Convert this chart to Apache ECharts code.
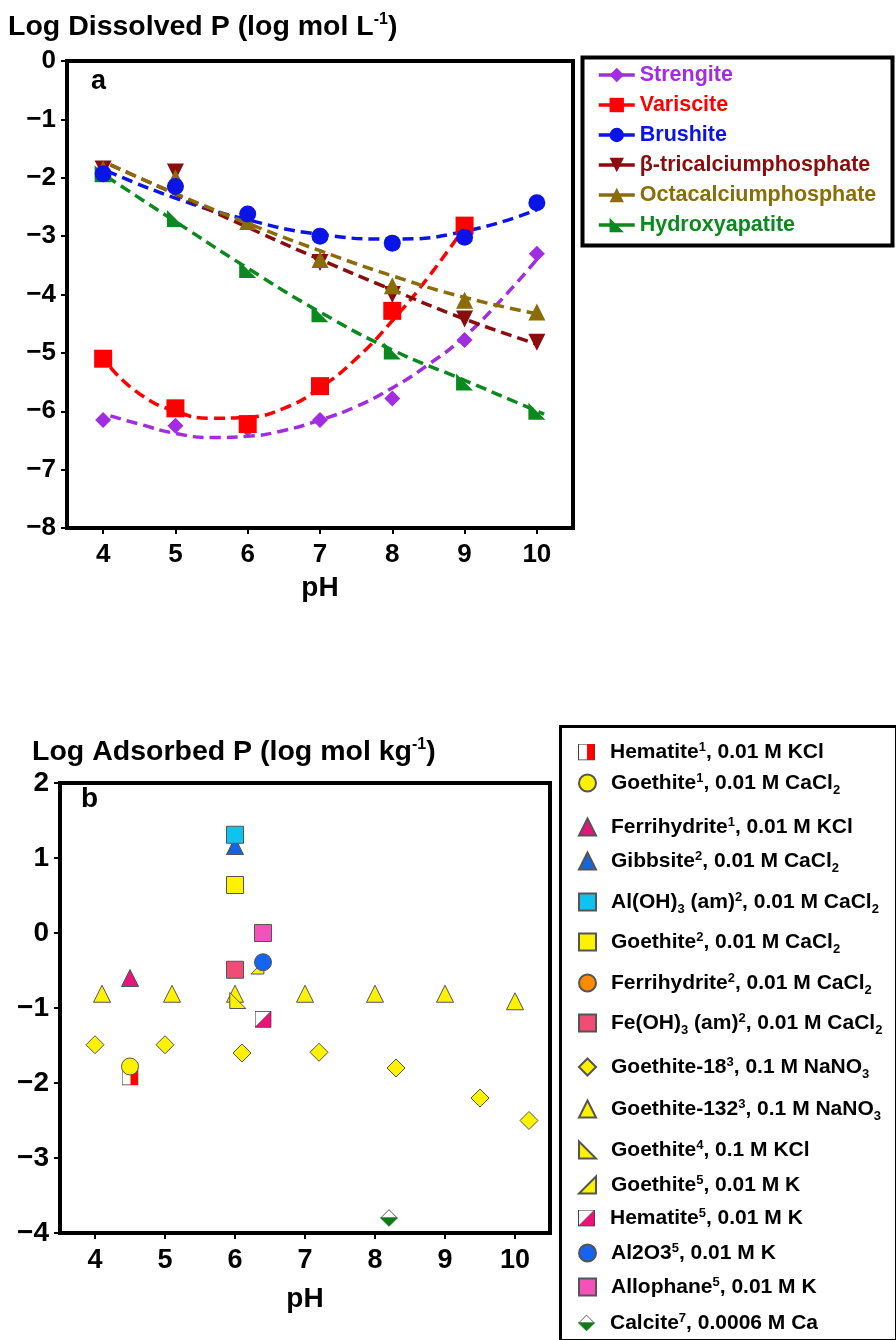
<!DOCTYPE html>
<html><head><meta charset="utf-8">
<script src="https://cdn.jsdelivr.net/npm/echarts@6/dist/echarts.min.js"></script>
<style>html,body{margin:0;padding:0;background:#fff}#c{width:896px;height:1340px}</style>
</head><body><div id="c"></div>
<script>
// ---------- Panel a data ----------
const pH = [4, 5, 6, 7, 8, 9, 10];
const strengite = [-6.15, -6.25, -6.3, -6.15, -5.78, -4.78, -3.3];
const variscite = [-5.1, -5.95, -6.22, -5.57, -4.28, -2.82];
const brushite = [-1.93, -2.15, -2.62, -3.0, -3.12, -3.02, -2.43];
const tcp = [-1.85, -1.9, -2.75, -3.45, -4.0, -4.42, -4.82];
const ocp = [-1.85, -2.0, -2.75, -3.4, -3.85, -4.1, -4.3];
const hap = [-1.93, -2.7, -3.57, -4.33, -4.97, -5.5, -6.0];
// dashed fit curves
const strengiteFitX = [4.1, 4.5, 5, 5.5, 6, 6.5, 7, 7.5, 8, 8.5, 9, 9.5, 10];
const strengiteFitY = [-6.08, -6.22, -6.38, -6.45, -6.43, -6.33, -6.15, -5.92, -5.6, -5.2, -4.72, -4.1, -3.4];
const varisciteFitX = [4.1, 4.5, 5, 5.5, 6, 6.5, 7, 7.5, 8, 8.5, 9];
const varisciteFitY = [-5.25, -5.7, -6.0, -6.12, -6.1, -5.95, -5.6, -5.1, -4.45, -3.7, -2.85];
const brushiteFitX = [4.05, 5, 6, 7, 8, 9, 10];
const brushiteFitY = [-1.88, -2.35, -2.72, -2.97, -3.05, -2.92, -2.55];
const tcpFitX = [4.1, 5, 6, 7, 8, 9, 10];
const tcpFitY = [-1.78, -2.28, -2.85, -3.4, -3.92, -4.42, -4.85];
const ocpFitX = [4.1, 5, 6, 7, 8, 9, 10];
const ocpFitY = [-1.78, -2.27, -2.78, -3.25, -3.68, -4.05, -4.33];
const hapFitX = [4.05, 5, 6, 7, 8, 9, 10.1];
const hapFitY = [-1.98, -2.75, -3.55, -4.3, -4.95, -5.47, -6.05];
const namesA = ['Strengite', 'Variscite', 'Brushite', '\u03B2-tricalciumphosphate', 'Octacalciumphosphate', 'Hydroxyapatite'];
const tickValues = [4, 5, 6, 7, 8, 9, 10];

// ---------- Panel b data ----------
const namesB = ['Hematite1 KCl', 'Goethite1 CaCl2', 'Ferrihydrite1 KCl', 'Gibbsite2 CaCl2', 'Al(OH)3 (am)2 CaCl2',
  'Goethite2 CaCl2', 'Ferrihydrite2 CaCl2', 'Fe(OH)3 (am)2 CaCl2', 'Goethite-18 NaNO3', 'Goethite-132 NaNO3',
  'Goethite4 KCl', 'Goethite5 K', 'Hematite5 K', 'Al2O35 K', 'Allophane5 K', 'Calcite7 Ca'];
const labelsB = [
  '{g| }{b|Hematite}{p|1}{b|, 0.01 M KCl}',
  '{g| }{b|Goethite}{p|1}{b|, 0.01 M CaCl}{d|2}',
  '{g| }{b|Ferrihydrite}{p|1}{b|, 0.01 M KCl}',
  '{g| }{b|Gibbsite}{p|2}{b|, 0.01 M CaCl}{d|2}',
  '{g| }{b|Al(OH)}{d|3}{b| (am)}{p|2}{b|, 0.01 M CaCl}{d|2}',
  '{g| }{b|Goethite}{p|2}{b|, 0.01 M CaCl}{d|2}',
  '{g| }{b|Ferrihydrite}{p|2}{b|, 0.01 M CaCl}{d|2}',
  '{g| }{b|Fe(OH)}{d|3}{b| (am)}{p|2}{b|, 0.01 M CaCl}{d|2}',
  '{g| }{b|Goethite-18}{p|3}{b|, 0.1 M NaNO}{d|3}',
  '{g| }{b|Goethite-132}{p|3}{b|, 0.1 M NaNO}{d|3}',
  '{g| }{b|Goethite}{p|4}{b|, 0.1 M KCl}',
  '{g| }{b|Goethite}{p|5}{b|, 0.01 M K}',
  '{g| }{b|Hematite}{p|5}{b|, 0.01 M K}',
  '{g| }{b|Al2O3}{p|5}{b|, 0.01 M K}',
  '{g| }{b|Allophane}{p|5}{b|, 0.01 M K}',
  '{g| }{b|Calcite}{p|7}{b|, 0.0006 M Ca}'
];
const hematite1X = [4.5], hematite1Y = [-1.92];
const goethite1X = [4.5], goethite1Y = [-1.78];
const ferri1X = [4.5], ferri1Y = [-0.6];
const gibbsiteX = [6.0], gibbsiteY = [1.16];
const alohX = [6.0], alohY = [1.31];
const goethite2X = [6.0], goethite2Y = [0.64];
const ferri2X = [], ferri2Y = [];
const feohX = [6.0], feohY = [-0.49];
const goe18X = [4.0, 5.0, 6.1, 7.2, 8.3, 9.5, 10.2], goe18Y = [-1.49, -1.49, -1.6, -1.59, -1.8, -2.2, -2.5];
const goe132X = [4.1, 5.1, 6.0, 7.0, 8.0, 9.0, 10.0], goe132Y = [-0.81, -0.81, -0.81, -0.81, -0.81, -0.81, -0.91];
const goethite4X = [6.04], goethite4Y = [-0.9];
const goethite5X = [6.32], goethite5Y = [-0.46];
const hematite5X = [6.4], hematite5Y = [-1.15];
const al2o3X = [6.4], al2o3Y = [-0.39];
const allophaneX = [6.4], allophaneY = [0.0];
const calciteX = [8.2], calciteY = [-3.8];
const legendRowsB = [752, 783, 827, 861, 902, 942, 983, 1023, 1067, 1109, 1150, 1185, 1218, 1253, 1287, 1323];

// ---------- helpers ----------
const FONT = '"Liberation Sans", Arial, Helvetica, sans-serif';
const zip = (xs, ys) => xs.map((x, i) => [x, ys[i]]);
const svgUri = s => 'image://data:image/svg+xml;charset=utf-8,' + encodeURIComponent(s);
const SVG_HEM1 = svgUri("<svg xmlns='http://www.w3.org/2000/svg' width='32' height='32' viewBox='0 0 16 16'><rect x='0.5' y='0.5' width='15' height='15' fill='#ffffff' stroke='#444444' stroke-width='1'/><rect x='8.5' y='0.5' width='7' height='15' fill='#ff0000'/></svg>");
const SVG_HEM5 = svgUri("<svg xmlns='http://www.w3.org/2000/svg' width='32' height='32' viewBox='0 0 16 16'><rect x='0.5' y='0.5' width='15' height='15' fill='#ffffff' stroke='#444444' stroke-width='1'/><polygon points='15.5,0.5 15.5,15.5 0.5,15.5' fill='#f0107a' stroke='#444444' stroke-width='0.6'/></svg>");
const SVG_CAL = svgUri("<svg xmlns='http://www.w3.org/2000/svg' width='32' height='32' viewBox='0 0 16 16'><polygon points='8,0.6 15.4,8 0.6,8' fill='#ffffff' stroke='#444444' stroke-width='0.8'/><polygon points='0.6,8 15.4,8 8,15.4' fill='#0d7a16' stroke='#0d7a16' stroke-width='0.8'/></svg>");
const RTRI_L = 'path://M0,0L0,10L10,10Z';
const RTRI_R = 'path://M10,0L10,10L0,10Z';
const minusFmt = v => (v < 0 ? '\u2212' + Math.abs(v) : String(v));

const colorsA = ['#a02ee0', '#ff0000', '#0a14e6', '#8b0c0c', '#8a6d08', '#0a8a1e'];
const symbolsA = ['diamond', 'rect', 'circle', 'path://M0,0L10,0L5,10Z', 'triangle', RTRI_L];
const sizesA = [16, 18, 17, 17, 17, 17];
const pointsA = [strengite, variscite, brushite, tcp, ocp, hap];
const fitsA = [[strengiteFitX, strengiteFitY], [varisciteFitX, varisciteFitY], [brushiteFitX, brushiteFitY],
  [tcpFitX, tcpFitY], [ocpFitX, ocpFitY], [hapFitX, hapFitY]];

const series = [];
namesA.forEach((n, i) => {
  series.push({
    type: 'line', name: n, xAxisIndex: 0, yAxisIndex: 0, smooth: 0.5,
    data: zip(fitsA[i][0], fitsA[i][1]), symbol: symbolsA[i], symbolSize: 14, showSymbol: false,
    lineStyle: { color: colorsA[i], width: 3.5, type: [11, 6] }, itemStyle: { color: colorsA[i] }, z: 2,
    emphasis: { disabled: true }
  });
  series.push({
    type: 'scatter', name: n, xAxisIndex: 0, yAxisIndex: 0,
    data: zip(pH.slice(0, pointsA[i].length), pointsA[i]), symbol: symbolsA[i],
    symbolSize: sizesA[i], itemStyle: { color: colorsA[i], opacity: 1 }, z: 3 + (i === 2 ? 1 : 0)
  });
});

const YEL = '#fff200';
const specB = [
  [hematite1X, hematite1Y, SVG_HEM1, '#ff0000', 17],
  [goethite1X, goethite1Y, 'circle', YEL, 17],
  [ferri1X, ferri1Y, 'triangle', '#e8147d', 17],
  [gibbsiteX, gibbsiteY, 'triangle', '#1565e0', 17],
  [alohX, alohY, 'rect', '#10c2f2', 17],
  [goethite2X, goethite2Y, 'rect', YEL, 17],
  [ferri2X, ferri2Y, 'circle', '#ff8a00', 17],
  [feohX, feohY, 'rect', '#f04c74', 17],
  [goe18X, goe18Y, 'diamond', YEL, 18],
  [goe132X, goe132Y, 'triangle', YEL, 17],
  [goethite4X, goethite4Y, RTRI_L, YEL, 16],
  [goethite5X, goethite5Y, RTRI_R, YEL, 13],
  [hematite5X, hematite5Y, SVG_HEM5, '#f0107a', 17],
  [al2o3X, al2o3Y, 'circle', '#1464f0', 17],
  [allophaneX, allophaneY, 'rect', '#f452b9', 17],
  [calciteX, calciteY, SVG_CAL, '#0d7a16', 18]
];
const zOrderB = [3, 4, 3, 3, 4, 3, 3, 3, 3, 3, 4, 2, 3, 5, 3, 3];
specB.forEach((s, i) => {
  series.push({
    type: 'scatter', name: namesB[i], xAxisIndex: 1, yAxisIndex: 1,
    data: zip(s[0], s[1]), symbol: s[2], symbolSize: s[4],
    itemStyle: { color: s[3], borderColor: '#555', borderWidth: 1, opacity: 1 }, z: zOrderB[i]
  });
});

const legends = [{
  orient: 'vertical', left: 597, top: 64, padding: 0, itemGap: 8, itemWidth: 36, itemHeight: 18,
  selectedMode: false,
  lineStyle: { type: 'solid', width: 3.5 },
  itemStyle: { opacity: 1 },
  textStyle: { fontFamily: FONT, fontWeight: 'bold', fontSize: 21.5, lineHeight: 22 },
  data: namesA.map((n, i) => ({ name: n, textStyle: { color: colorsA[i] } }))
}];
namesB.forEach((n, i) => {
  const hasSub = labelsB[i].indexOf('{d|') >= 0;
  const h = hasSub ? 27 : 23;
  legends.push({
    orient: 'vertical', left: 578, top: legendRowsB[i] - h / 2, padding: 0, itemWidth: 17, itemHeight: 17,
    selectedMode: false, data: [n],
    itemStyle: { opacity: 1 },
    formatter: () => labelsB[i],
    textStyle: {
      fontFamily: FONT, fontWeight: 'bold', color: '#000',
      rich: {
        g: { width: 10, fontSize: 12 },
        b: { fontFamily: FONT, fontWeight: 'bold', fontSize: 21, lineHeight: 23, verticalAlign: 'middle', color: '#000' },
        p: { fontFamily: FONT, fontWeight: 'bold', fontSize: 13, lineHeight: 13, padding: [0, 0, 10, 0], verticalAlign: 'middle', color: '#000' },
        d: { fontFamily: FONT, fontWeight: 'bold', fontSize: 13, lineHeight: 13, padding: [14, 0, 0, 0], verticalAlign: 'middle', color: '#000' }
      }
    }
  });
});

const axisCommonX = (gi, fs, margin, gap) => ({
  type: 'value', gridIndex: gi, min: 3.5, max: 10.5,
  name: 'pH', nameLocation: 'middle', nameGap: gap,
  nameTextStyle: { fontFamily: FONT, fontWeight: 'bold', fontSize: 28, color: '#000' },
  axisLine: { show: true, onZero: false, lineStyle: { color: '#000', width: 4 } },
  axisTick: { show: true, inside: false, length: 6, customValues: tickValues, lineStyle: { color: '#000', width: 2 } },
  axisLabel: { customValues: tickValues, fontFamily: FONT, fontWeight: 'bold', fontSize: fs, color: '#000', margin: margin },
  splitLine: { show: false }
});
const axisCommonY = (gi, min, max, fs, margin) => ({
  type: 'value', gridIndex: gi, min: min, max: max, interval: 1,
  axisLine: { show: true, onZero: false, lineStyle: { color: '#000', width: 4 } },
  axisTick: { show: true, inside: false, length: 6, lineStyle: { color: '#000', width: 2 } },
  axisLabel: { formatter: minusFmt, fontFamily: FONT, fontWeight: 'bold', fontSize: fs, color: '#000', margin: margin },
  splitLine: { show: false }
});

const option = {
  animation: false,
  backgroundColor: '#fff',
  grid: [
    { left: 67, top: 61, width: 506, height: 467, show: true, borderColor: '#000', borderWidth: 4, backgroundColor: 'transparent' },
    { left: 60, top: 783, width: 490, height: 450, show: true, borderColor: '#000', borderWidth: 4, backgroundColor: 'transparent' }
  ],
  xAxis: [axisCommonX(0, 26, 14, 46), axisCommonX(1, 27, 14, 52)],
  yAxis: [axisCommonY(0, -8, 0, 26, 11), axisCommonY(1, -4, 2, 28, 11)],
  legend: legends,
  graphic: [
    { type: 'rect', left: 580, top: 55, shape: { width: 310, height: 188 }, style: { fill: 'none', stroke: '#000', lineWidth: 4 }, z: 1 },
    { type: 'rect', left: 558, top: 724, shape: { width: 336, height: 614 }, style: { fill: 'none', stroke: '#000', lineWidth: 3 }, z: 1 },
    { type: 'text', left: 8, top: 12, style: {
        text: '{m|Log Dissolved P (log mol L}{s|-1}{m|)}',
        rich: {
          m: { fontFamily: FONT, fontWeight: 'bold', fontSize: 28.5, lineHeight: 32, fill: '#000', verticalAlign: 'middle' },
          s: { fontFamily: FONT, fontWeight: 'bold', fontSize: 16, lineHeight: 16, padding: [0, 0, 14, 0], fill: '#000', verticalAlign: 'middle' }
        } } },
    { type: 'text', left: 32, top: 737, style: {
        text: '{m|Log Adsorbed P (log mol kg}{s|-1}{m|)}',
        rich: {
          m: { fontFamily: FONT, fontWeight: 'bold', fontSize: 28.5, lineHeight: 32, fill: '#000', verticalAlign: 'middle' },
          s: { fontFamily: FONT, fontWeight: 'bold', fontSize: 16, lineHeight: 16, padding: [0, 0, 14, 0], fill: '#000', verticalAlign: 'middle' }
        } } },
    { type: 'text', left: 91, top: 68, style: { text: 'a', font: 'bold 27px ' + FONT, fill: '#000' } },
    { type: 'text', left: 81, top: 785, style: { text: 'b', font: 'bold 28px ' + FONT, fill: '#000' } }
  ],
  series: series
};
const chart = echarts.init(document.getElementById('c'), null, { renderer: 'canvas' });
chart.setOption(option);
</script></body></html>
